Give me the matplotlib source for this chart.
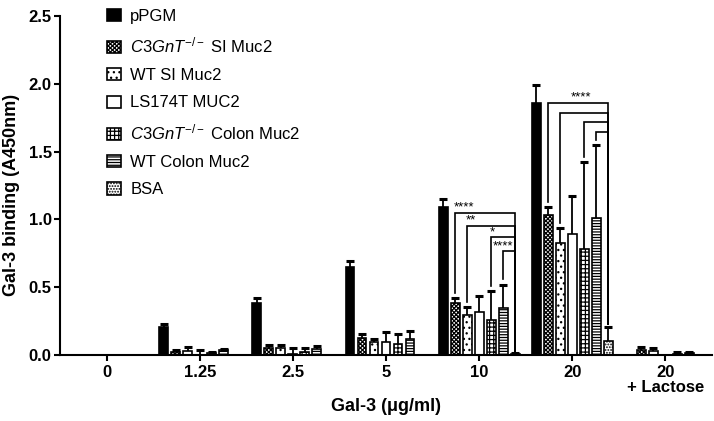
import numpy as np
import matplotlib
matplotlib.use("Agg")
import matplotlib.pyplot as plt

plt.rcParams['font.family'] = ['Liberation Sans', 'DejaVu Sans']
plt.rcParams['mathtext.fontset'] = 'custom'
plt.rcParams['mathtext.rm'] = 'Liberation Sans'
plt.rcParams['mathtext.it'] = 'Liberation Sans:italic'
plt.rcParams['mathtext.bf'] = 'Liberation Sans:bold'
plt.rcParams['hatch.linewidth'] = 0.9

# ---------------- data ----------------
groups = ['0', '1.25', '2.5', '5', '10', '20', '20\n+ Lactose']

series = [r'pPGM',
          r'$\mathit{C3GnT}^{\mathit{-/-}}$ SI Muc2',
          r'WT SI Muc2',
          r'LS174T MUC2',
          r'$\mathit{C3GnT}^{\mathit{-/-}}$ Colon Muc2',
          r'WT Colon Muc2',
          r'BSA']

pPGM         = [0, 0.21, 0.38, 0.65, 1.09, 1.86, 0]
pPGM_err     = [0, 0.02, 0.04, 0.04, 0.06, 0.13, 0]
C3_SI        = [0, 0.02, 0.05, 0.125, 0.385, 1.03, 0.037]
C3_SI_err    = [0, 0.02, 0.025, 0.03, 0.035, 0.06, 0.024]
WT_SI        = [0, 0.03, 0.05, 0.093, 0.295, 0.823, 0.027]
WT_SI_err    = [0, 0.026, 0.026, 0.025, 0.056, 0.11, 0.022]
LS174T       = [0, 0.0, 0.005, 0.093, 0.319, 0.892, 0]
LS174T_err   = [0, 0.04, 0.05, 0.074, 0.118, 0.283, 0]
C3_Colon     = [0, 0.015, 0.025, 0.081, 0.258, 0.782, 0.005]
C3_Colon_err = [0, 0.01, 0.025, 0.074, 0.211, 0.638, 0.015]
WT_Colon     = [0, 0.04, 0.045, 0.118, 0.347, 1.01, 0.015]
WT_Colon_err = [0, 0.005, 0.02, 0.056, 0.171, 0.539, 0.01]
BSA          = [0, 0, 0, 0, 0.005, 0.105, 0]
BSA_err      = [0, 0, 0, 0, 0.01, 0.105, 0]

values = [pPGM, C3_SI, WT_SI, LS174T, C3_Colon, WT_Colon, BSA]
errors = [pPGM_err, C3_SI_err, WT_SI_err, LS174T_err, C3_Colon_err, WT_Colon_err, BSA_err]

# significance comparisons: (group index, compared series index, bracket level, label)
# every comparison is against BSA (series index 6)
sig_group10 = [(4, 1, 1.05, '****'), (4, 2, 0.953, '**'), (4, 4, 0.867, '*'), (4, 5, 0.764, '****')]
sig_group20 = [(5, 1, 1.857, '****'), (5, 2, 1.785, ''), (5, 4, 1.72, ''), (5, 5, 1.647, '')]

# ---------------- styles ----------------
faces = ['black', 'white', 'white', 'white', 'white', 'white', 'white']
hatches = [None, 'xxxxxxxx', '...', None, '++++', '------', '......']

fig = plt.figure(figsize=(7.14, 4.21), dpi=100)
ax = fig.add_axes([60/714, 66/421, 652/714, 339/421])

x = np.arange(len(groups))
step = 0.129
width = 0.095

for i, (vals, errs) in enumerate(zip(values, errors)):
    pos = x + (i - 3) * step
    ax.bar(pos, vals, width=width, color=faces[i], edgecolor='black',
           linewidth=1.2, hatch=hatches[i], label=series[i], zorder=2)
    vals = np.asarray(vals); errs = np.asarray(errs)
    m = errs > 0
    ax.vlines(pos[m], vals[m], vals[m] + errs[m], color='black', lw=1.3, zorder=3)
    ax.plot(pos[m], vals[m] + errs[m], ls='none', marker='_', ms=6, mew=2.2,
            color='black', zorder=3)

def bar_top(g, i):
    return values[i][g] + errors[i][g]

for idx, (g, i, level, lab) in enumerate(sig_group10 + sig_group20):
    xl = g + (i - 3) * step
    xr = g + (6 - 3) * step
    ax.plot([xl, xl, xr, xr], [bar_top(g, i) + 0.04, level, level, bar_top(g, 6) + 0.015],
            color='black', lw=1.2, zorder=4, solid_joinstyle='miter')
    if lab:
        if g == 5:
            xt, ha = (xl + xr) / 2 + 0.03, 'center'
        elif i == 5:
            xt, ha = xl, 'center'
        else:
            xt, ha = xl - 0.01, 'left'
        ax.text(xt, level - 0.005, lab, ha=ha, va='bottom', fontsize=9.5, zorder=5)

ax.set_xlim(-0.5, 6.5)
ax.set_ylim(0, 2.5)
ax.set_yticks(np.arange(0, 2.51, 0.5))
ax.set_yticklabels([f'{v:.1f}' for v in np.arange(0, 2.51, 0.5)])
ax.set_xticks(x)
ax.set_xticklabels(groups, linespacing=1.0)

for lab in ax.get_xticklabels() + ax.get_yticklabels():
    lab.set_fontweight('bold')
    lab.set_fontsize(12)

ax.spines['top'].set_visible(False)
ax.spines['right'].set_visible(False)
ax.spines['left'].set_linewidth(1.5)
ax.spines['bottom'].set_linewidth(1.5)
ax.tick_params(axis='both', direction='out', length=4, width=1.5)
ax.tick_params(axis='y', pad=2)
ax.tick_params(axis='x', pad=3)

ax.set_xlabel('Gal-3 (μg/ml)', fontsize=13, fontweight='bold')
ax.xaxis.set_label_coords(0.5, -0.128)
ax.set_ylabel('Gal-3 binding (A450nm)', fontsize=13, fontweight='bold')
ax.yaxis.set_label_coords(-0.062, 0.472)

leg = ax.legend(loc='upper left', bbox_to_anchor=(47/652, 1.022), frameon=False,
                fontsize=12, handlelength=0.85, handleheight=0.75,
                handletextpad=0.55, labelspacing=0.74, borderpad=0, borderaxespad=0)

fig.savefig('out.png', dpi=100)
